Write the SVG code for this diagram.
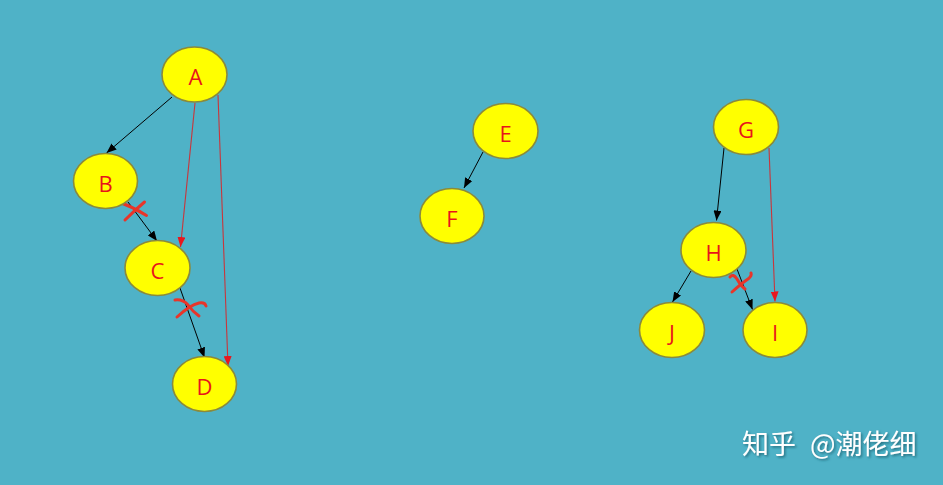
<svg xmlns="http://www.w3.org/2000/svg" width="943" height="485" viewBox="0 0 943 485">
<style>
.node ellipse{fill:#ffff00;stroke:#8a8a3c;stroke-width:1.6}
.node text{font-family:"Open Sans","Liberation Sans",sans-serif;font-size:22px;fill:#e8141b;text-anchor:middle}
.blk{stroke:#000;stroke-width:1;fill:none}
.red{stroke:#c8363c;stroke-width:1.1;fill:none}
.x{stroke:#e8352a;stroke-width:3;fill:none;stroke-linecap:round}
.wm{font-family:"Noto Sans CJK SC","Noto Sans",sans-serif;font-size:27px;fill:#fff}
</style>
<defs>
<marker id="ab" viewBox="0 0 10 8" refX="10" refY="4" markerWidth="10" markerHeight="8" markerUnits="userSpaceOnUse" orient="auto"><path d="M0,0L10,4L0,8z" fill="#000"/></marker>
<marker id="ar" viewBox="0 0 10 8" refX="10" refY="4" markerWidth="10" markerHeight="8" markerUnits="userSpaceOnUse" orient="auto"><path d="M0,0L10,4L0,8z" fill="#e8171e"/></marker>
<filter id="sh" x="-10%" y="-20%" width="130%" height="150%"><feDropShadow dx="1.5" dy="1.5" stdDeviation="0.8" flood-color="#1d5f6e" flood-opacity="0.8"/></filter>
</defs>
<rect width="943" height="485" fill="#4fb2c7"/>
<g id="connectors">
<line class="blk" x1="172" y1="97" x2="106.5" y2="153" marker-end="url(#ab)"/>
<line class="red" x1="195" y1="103" x2="180.5" y2="247" marker-end="url(#ar)"/>
<line class="red" x1="218" y1="95" x2="228" y2="366" marker-end="url(#ar)"/>
<line class="blk" x1="128" y1="202" x2="157" y2="241" marker-end="url(#ab)"/>
<line class="blk" x1="180" y1="288" x2="204.5" y2="357.5" marker-end="url(#ab)"/>
<line class="blk" x1="483" y1="152" x2="464" y2="188" marker-end="url(#ab)"/>
<line class="blk" x1="724" y1="148" x2="716.5" y2="220.5" marker-end="url(#ab)"/>
<line class="red" x1="769" y1="148" x2="775" y2="301.5" marker-end="url(#ar)"/>
<line class="blk" x1="691" y1="271" x2="672.5" y2="302" marker-end="url(#ab)"/>
<line class="blk" x1="737" y1="269" x2="752.5" y2="309.5" marker-end="url(#ab)"/>
</g>
<g id="marks">
<path class="x" d="M119,202 Q133,207 146.5,215.5"/>
<path class="x" d="M125,220 Q135,210 144.5,202"/>
<path class="x" d="M175,300 Q183,299 188,305 Q193,312 199,316"/>
<path class="x" d="M177,317 Q190,305 199,303 Q205,302 206,306"/>
<path class="x" d="M730,277 Q733,273 737,279 Q741,286 745,289"/>
<path class="x" d="M732,292 Q742,283 748,279 Q752,276 751,273"/>
</g>
<g id="A" class="node"><ellipse cx="194.5" cy="74.5" rx="32.5" ry="27.5"/><text x="195.5" y="85">A</text></g>
<g id="B" class="node"><ellipse cx="105.5" cy="181" rx="32" ry="27.5"/><text x="105.5" y="191.5">B</text></g>
<g id="C" class="node"><ellipse cx="157.5" cy="268" rx="32.5" ry="27.5"/><text x="157.5" y="278.5">C</text></g>
<g id="D" class="node"><ellipse cx="204.5" cy="384" rx="32" ry="27.5"/><text x="204.5" y="394.5">D</text></g>
<g id="E" class="node"><ellipse cx="505.5" cy="131" rx="32.5" ry="27.5"/><text x="505.5" y="141.5">E</text></g>
<g id="F" class="node"><ellipse cx="452" cy="216" rx="32" ry="27.5"/><text x="452" y="226.5">F</text></g>
<g id="G" class="node"><ellipse cx="746" cy="127" rx="32.5" ry="27.5"/><text x="746" y="137.5">G</text></g>
<g id="H" class="node"><ellipse cx="713.5" cy="250" rx="32.5" ry="27.5"/><text x="713.5" y="260.5">H</text></g>
<g id="J" class="node"><ellipse cx="672" cy="330" rx="32.5" ry="27.5"/><text x="672" y="340.5">J</text></g>
<g id="I" class="node"><ellipse cx="775" cy="330" rx="32" ry="27.5"/><text x="775" y="340.5">I</text></g>
<text class="wm" x="742" y="454" filter="url(#sh)">知乎<tspan x="810">@潮佬细</tspan></text>
</svg>
